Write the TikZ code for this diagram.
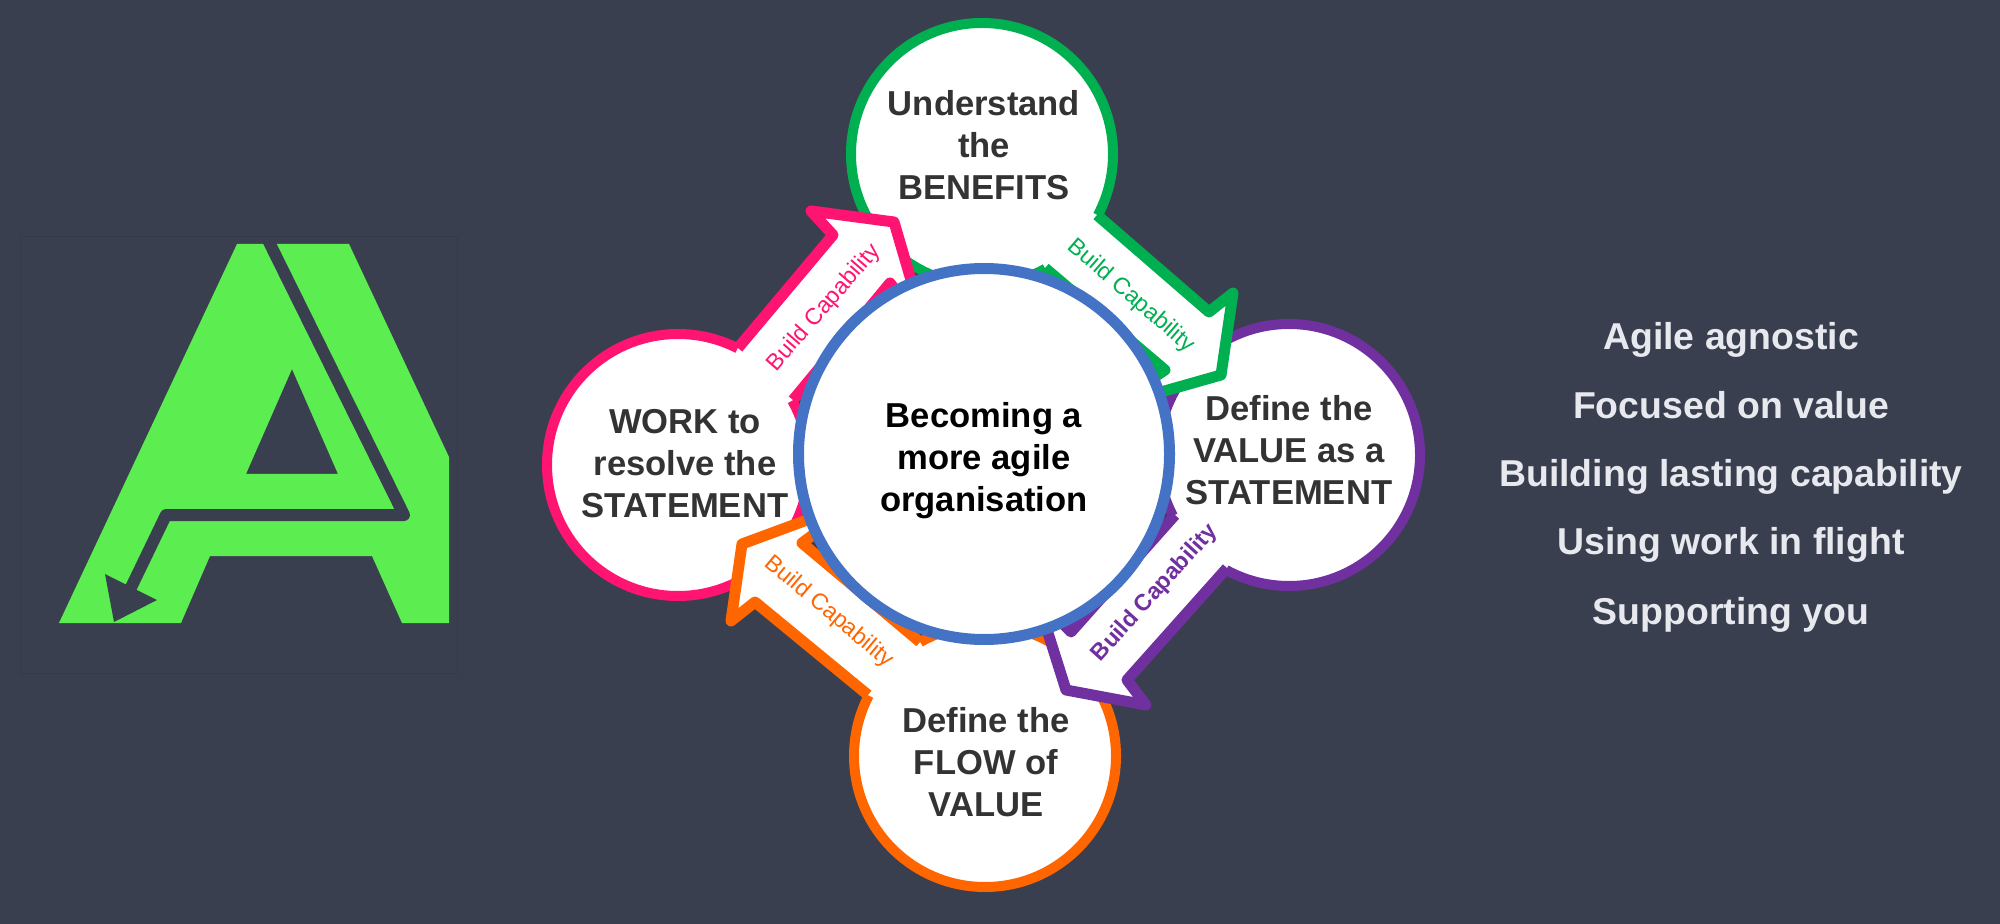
\documentclass[tikz,border=0pt]{standalone}
\usepackage{fontspec}
\setmainfont{Liberation Sans}
\definecolor{bgc}{HTML}{393F4F}
\definecolor{boxc}{HTML}{353A4A}
\definecolor{logoc}{HTML}{5CEE50}
\definecolor{gr}{HTML}{00B050}
\definecolor{pk}{HTML}{FF1472}
\definecolor{og}{HTML}{FF6600}
\definecolor{pu}{HTML}{7030A0}
\definecolor{bl}{HTML}{4472C4}
\definecolor{ink}{HTML}{333333}
\definecolor{side}{HTML}{E8E9EE}
\newcommand{\blockarrow}[3]{%
  \fill[white] (#2.center) -- #3 -- cycle;
  \draw[arrowstroke,#1] #3;}
\tikzset{
  ringnode/.style={circle,draw=#1,fill=white,line width=5pt,minimum size=131pt,inner sep=0pt},
  arrowstroke/.style={line width=5.5pt,line join=round},
  circletext/.style={font=\fontsize{17.3}{21}\selectfont\bfseries,text=ink,align=center,inner sep=0pt},
  buildcap/.style={font=\fontsize{11.6}{13}\selectfont,inner sep=0pt},
  sidetext/.style={font=\fontsize{18.7}{22}\selectfont\bfseries,text=side,inner sep=0pt},
}
\begin{document}
\begin{tikzpicture}[x=0.5pt,y=-0.5pt]
\useasboundingbox (0,0) rectangle (2000,924);
\fill[bgc] (0,0) rectangle (2000,924);
% logo
\draw[boxc,line width=0.5pt] (20,237) rectangle (457,673);
\fill[logoc,even odd rule] (237,244) -- (349,244) -- (449,457) -- (449,623) -- (402,623) -- (372,556) -- (210,556) -- (181,623) -- (59,623) -- cycle
  (292,369) -- (338,474) -- (246,474) -- cycle;
\draw[bgc,line width=6pt,line join=round] (268,240) -- (404,515) -- (166,515) -- (125,600);
\fill[bgc] (105,574) -- (157,600) -- (114,622) -- cycle;
% circles
\node[ringnode=gr] (benefits) at (982,154) {};
\node[ringnode=pu] (valuec) at (1289,455) {};
\node[ringnode=pk] (work) at (678,465) {};
\node[ringnode=og] (flow) at (985,756) {};
% block arrows
\blockarrow{gr}{benefits}{(1097,215) -- (1209,312) -- (1233,293) -- (1221,375) -- (1161,392) -- (1105,410) -- (1165,370) -- (1045,268)}
\blockarrow{pu}{valuec}{(1227,568) -- (1127,680) -- (1146,705) -- (1066,690) -- (1048,633) -- (1030,590) -- (1071,632) -- (1175,515)}
\blockarrow{og}{flow}{(868,695) -- (755,602) -- (731,621) -- (742,544) -- (807,520) -- (860,500) -- (802,543) -- (920,642)}
\blockarrow{pk}{work}{(738,348) -- (833,235) -- (811,211) -- (894,222) -- (911,280) -- (925,330) -- (890,283) -- (793,400)}
% arrow labels
\node[buildcap,text=gr,rotate=-41] (lg) at (1131,296) {Build Capability};
\node[buildcap,text=pk,rotate=49] (lp) at (824,308) {Build Capability};
\node[buildcap,text=og,rotate=-40] (lo) at (829,612) {Build Capability};
\node[buildcap,text=pu,rotate=48,font=\fontsize{11.6}{13}\selectfont\bfseries] (lu) at (1155,593) {Build Capability};
% circle labels
\node[circletext] (tb) at (984,145) {Understand\\the\\BENEFITS};
\node[circletext] (tw) at (685,464) {WORK to\\resolve the\\STATEMENT};
\node[circletext] (tv) at (1289,450) {Define the\\VALUE as a\\STATEMENT};
\node[circletext] (tf) at (986,762) {Define the\\FLOW of\\VALUE};
% centre
\node[circle,draw=bl,fill=white,line width=5.5pt,minimum size=185.5pt,inner sep=0pt] (core) at (984,454) {};
\node[circletext,text=black] (tc) at (984,461) {Becoming a\\more agile\\organisation};
% side list
\node[sidetext] (s1) at (1731,340) {Agile agnostic};
\node[sidetext] (s2) at (1731,405) {Focused on value};
\node[sidetext] (s3) at (1731,477) {Building lasting capability};
\node[sidetext] (s4) at (1731,545) {Using work in flight};
\node[sidetext] (s5) at (1731,615) {Supporting you};
\end{tikzpicture}
\end{document}
